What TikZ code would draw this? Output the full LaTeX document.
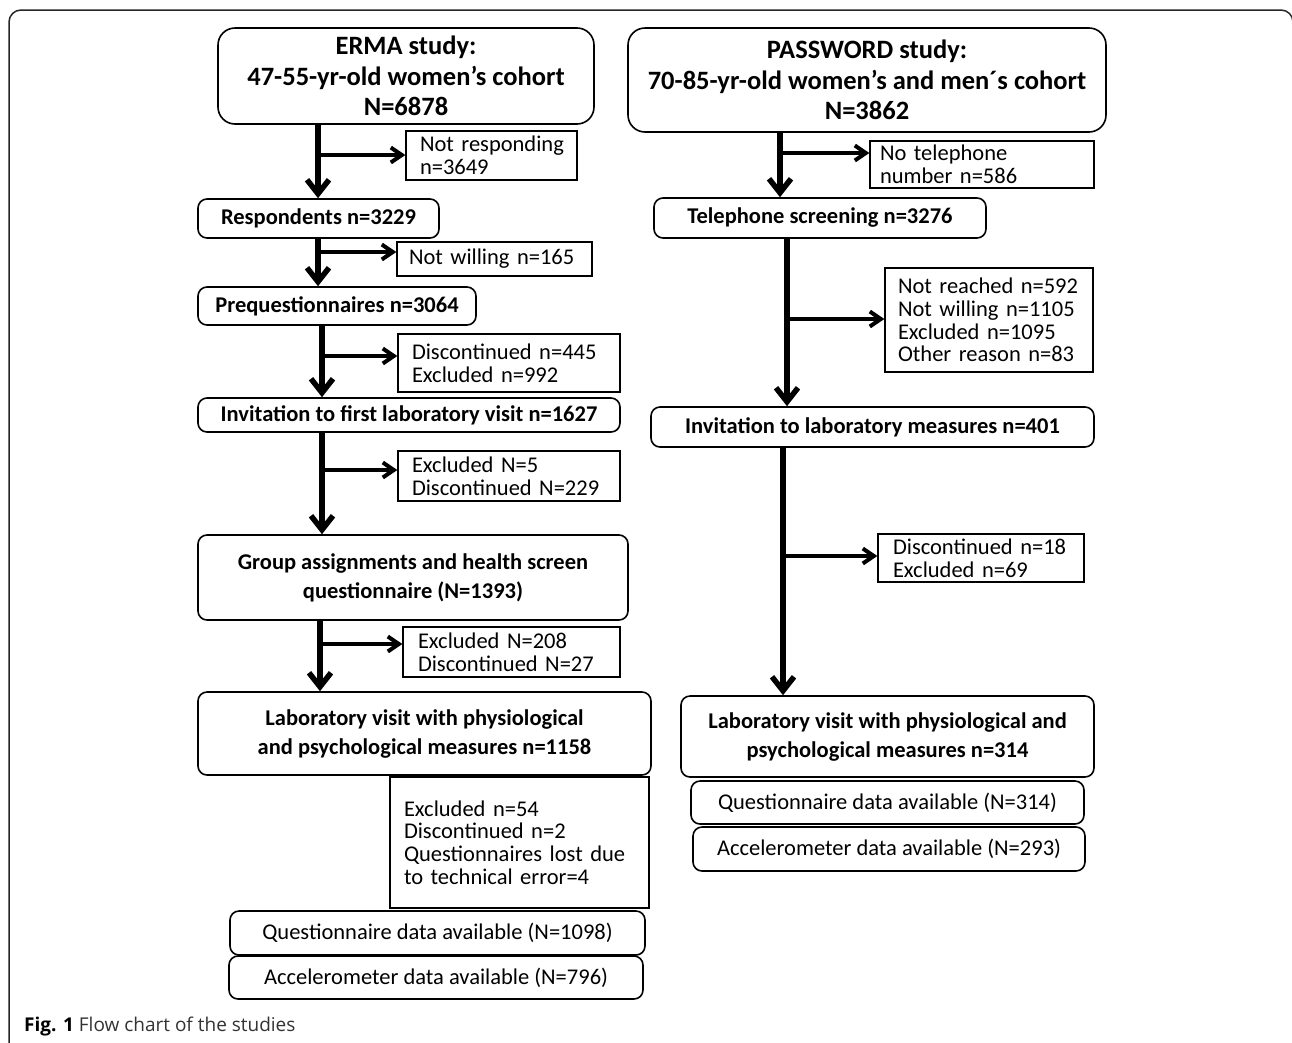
\documentclass[tikz,border=0pt]{standalone}
\usepackage{fontspec}
\setmainfont{Carlito}
\newfontfamily\capfont{Open Sans}
\usetikzlibrary{arrows.meta}
\tikzset{
  base/.style={draw, line width=1.6pt, inner sep=0pt, align=center,
    font=\bfseries\fontsize{22.5}{29}\selectfont},
  mainbox/.style={base, rounded corners=9pt},
  titlebox/.style={base, rounded corners=17pt, font=\bfseries\fontsize{26.5}{30.5}\selectfont},
  sidebox/.style={draw, line width=1.3pt, inner ysep=0pt, align=left,
    font=\fontsize{22.5}{22.7}\selectfont},
  databox/.style={draw, line width=1.6pt, rounded corners=9pt, inner sep=0pt, align=center,
    font=\fontsize{22.5}{23}\selectfont},
  varr/.style={line width=5.5pt, -{Straight Barb[length=14pt,width=22pt]}},
  harr/.style={line width=4pt, -{Straight Barb[length=11pt,width=15pt]}},
  frame/.style={draw=black!85, line width=1.5pt, rounded corners=12pt}
}
\begin{document}
\begin{tikzpicture}[x=1pt,y=-1pt]
\clip (0,0) rectangle (1292,1042);
\useasboundingbox (0,0) rectangle (1292,1042);
\fill[white] (0,0) rectangle (1292,1042);
\draw[frame] (9,10) rectangle (1293,1080);

% ---------- left column (ERMA) ----------
\node[titlebox, minimum width=376pt, minimum height=96pt] (erma) at (406,76)
  {ERMA study:\\47-55-yr-old women’s cohort\\N=6878};
\node[sidebox, minimum height=49pt, inner xsep=14pt, text width=143pt] (nr) at (491.5,155.5)
  {\mbox{Not responding}\\\mbox{n=3649}};
\node[mainbox, minimum width=241pt, minimum height=39pt] (resp) at (318.5,218.5)
  {Respondents n=3229};
\node[sidebox, minimum height=34pt, inner xsep=12pt, text width=171pt] (nw) at (494.5,259)
  {\mbox{Not willing n=165}};
\node[mainbox, minimum width=278pt, minimum height=38pt] (pre) at (337,306)
  {Prequestionnaires n=3064};
\node[sidebox, minimum height=58pt, inner xsep=14pt, text width=194pt] (de1) at (509,363)
  {\mbox{Discontinued n=445}\\\mbox{Excluded n=992}};
\node[mainbox, minimum width=422pt, minimum height=34pt] (inv1) at (409,415)
  {Invitation to first laboratory visit n=1627};
\node[sidebox, minimum height=50pt, inner xsep=14pt, text width=194pt] (ex5) at (509,476)
  {\mbox{Excluded N=5}\\\mbox{Discontinued N=229}};
\node[mainbox, minimum width=430pt, minimum height=85pt] (grp) at (413,577.5)
  {Group assignments and health screen\\questionnaire (N=1393)};
\node[sidebox, minimum height=50pt, inner xsep=15pt, text width=187pt] (ex208) at (511.5,652)
  {\mbox{Excluded N=208}\\\mbox{Discontinued N=27}};
\node[mainbox, minimum width=453pt, minimum height=83pt] (labL) at (424.5,733.5)
  {Laboratory visit with physiological\\and psychological measures n=1158};
\node[sidebox, minimum height=131pt, inner xsep=14pt, text width=231pt] (ex54) at (519.5,842.5)
  {\mbox{Excluded n=54}\\\mbox{Discontinued n=2}\\\mbox{Questionnaires lost due}\\\mbox{to technical error=4}};
\node[databox, minimum width=415pt, minimum height=44pt] (qL) at (437.5,933)
  {Questionnaire data available (N=1098)};
\node[databox, minimum width=414pt, minimum height=43pt] (aL) at (436,977.5)
  {Accelerometer data available (N=796)};

% ---------- right column (PASSWORD) ----------
\node[titlebox, minimum width=478pt, minimum height=104pt] (pw) at (867,80)
  {PASSWORD study:\\70-85-yr-old women’s and men´s cohort\\N=3862};
\node[sidebox, minimum height=47pt, inner xsep=10pt, text width=204pt] (ntel) at (982,164.5)
  {\mbox{No telephone}\\\mbox{number n=586}};
\node[mainbox, minimum width=332pt, minimum height=40pt] (tel) at (820,218)
  {Telephone screening n=3276};
\node[sidebox, minimum height=104pt, inner xsep=13pt, text width=182pt] (nr4) at (989,320)
  {\mbox{Not reached n=592}\\\mbox{Not willing n=1105}\\\mbox{Excluded n=1095}\\\mbox{Other reason n=83}};
\node[mainbox, minimum width=443pt, minimum height=40pt] (inv2) at (872.5,427)
  {Invitation to laboratory measures n=401};
\node[sidebox, minimum height=48pt, inner xsep=15pt, text width=176pt] (d18) at (981,558)
  {\mbox{Discontinued n=18}\\\mbox{Excluded n=69}};
\node[mainbox, minimum width=413pt, minimum height=81pt] (labR) at (887.5,736.5)
  {Laboratory visit with physiological and\\psychological measures n=314};
\node[databox, minimum width=393pt, minimum height=43pt] (qR) at (887.5,802.5)
  {Questionnaire data available (N=314)};
\node[databox, minimum width=392pt, minimum height=44pt] (aR) at (889,849)
  {Accelerometer data available (N=293)};

% ---------- trunk and branch coordinates ----------
\coordinate (a1) at (318,0);
\coordinate (a2) at (322,0);
\coordinate (a3) at (320,0);
\coordinate (c1) at (780,0);
\coordinate (c2) at (787,0);
\coordinate (c3) at (783,0);
\coordinate (b1) at (0,155);
\coordinate (b2) at (0,252);
\coordinate (b3) at (0,356);
\coordinate (b4) at (0,470);
\coordinate (b5) at (0,644);
\coordinate (r1) at (0,153);
\coordinate (r2) at (0,319);
\coordinate (r3) at (0,556);

% ---------- connectors, left ----------
\draw[varr] (erma.south -| a1) -- (resp.north -| a1);
\draw[harr] (a1 |- b1) -- (nr.west |- b1);
\draw[varr] (resp.south -| a1) -- (pre.north -| a1);
\draw[harr] (a1 |- b2) -- (nw.west |- b2);
\draw[varr] (pre.south -| a2) -- (inv1.north -| a2);
\draw[harr] (a2 |- b3) -- (de1.west |- b3);
\draw[varr] (inv1.south -| a2) -- (grp.north -| a2);
\draw[harr] (a2 |- b4) -- (ex5.west |- b4);
\draw[varr] (grp.south -| a3) -- (labL.north -| a3);
\draw[harr] (a3 |- b5) -- (ex208.west |- b5);

% ---------- connectors, right ----------
\draw[varr] (pw.south -| c1) -- (tel.north -| c1);
\draw[harr] (c1 |- r1) -- (ntel.west |- r1);
\draw[varr] (tel.south -| c2) -- (inv2.north -| c2);
\draw[harr] (c2 |- r2) -- (nr4.west |- r2);
\draw[varr] (inv2.south -| c3) -- (labR.north -| c3);
\draw[harr] (c3 |- r3) -- (d18.west |- r3);

% ---------- caption ----------
\node[anchor=base west, inner sep=0pt, font=\capfont\fontsize{19}{22}\selectfont] (cap) at (24,1031)
  {\textbf{Fig. 1} \textcolor{black!80}{Flow chart of the studies}};
\end{tikzpicture}
\end{document}
